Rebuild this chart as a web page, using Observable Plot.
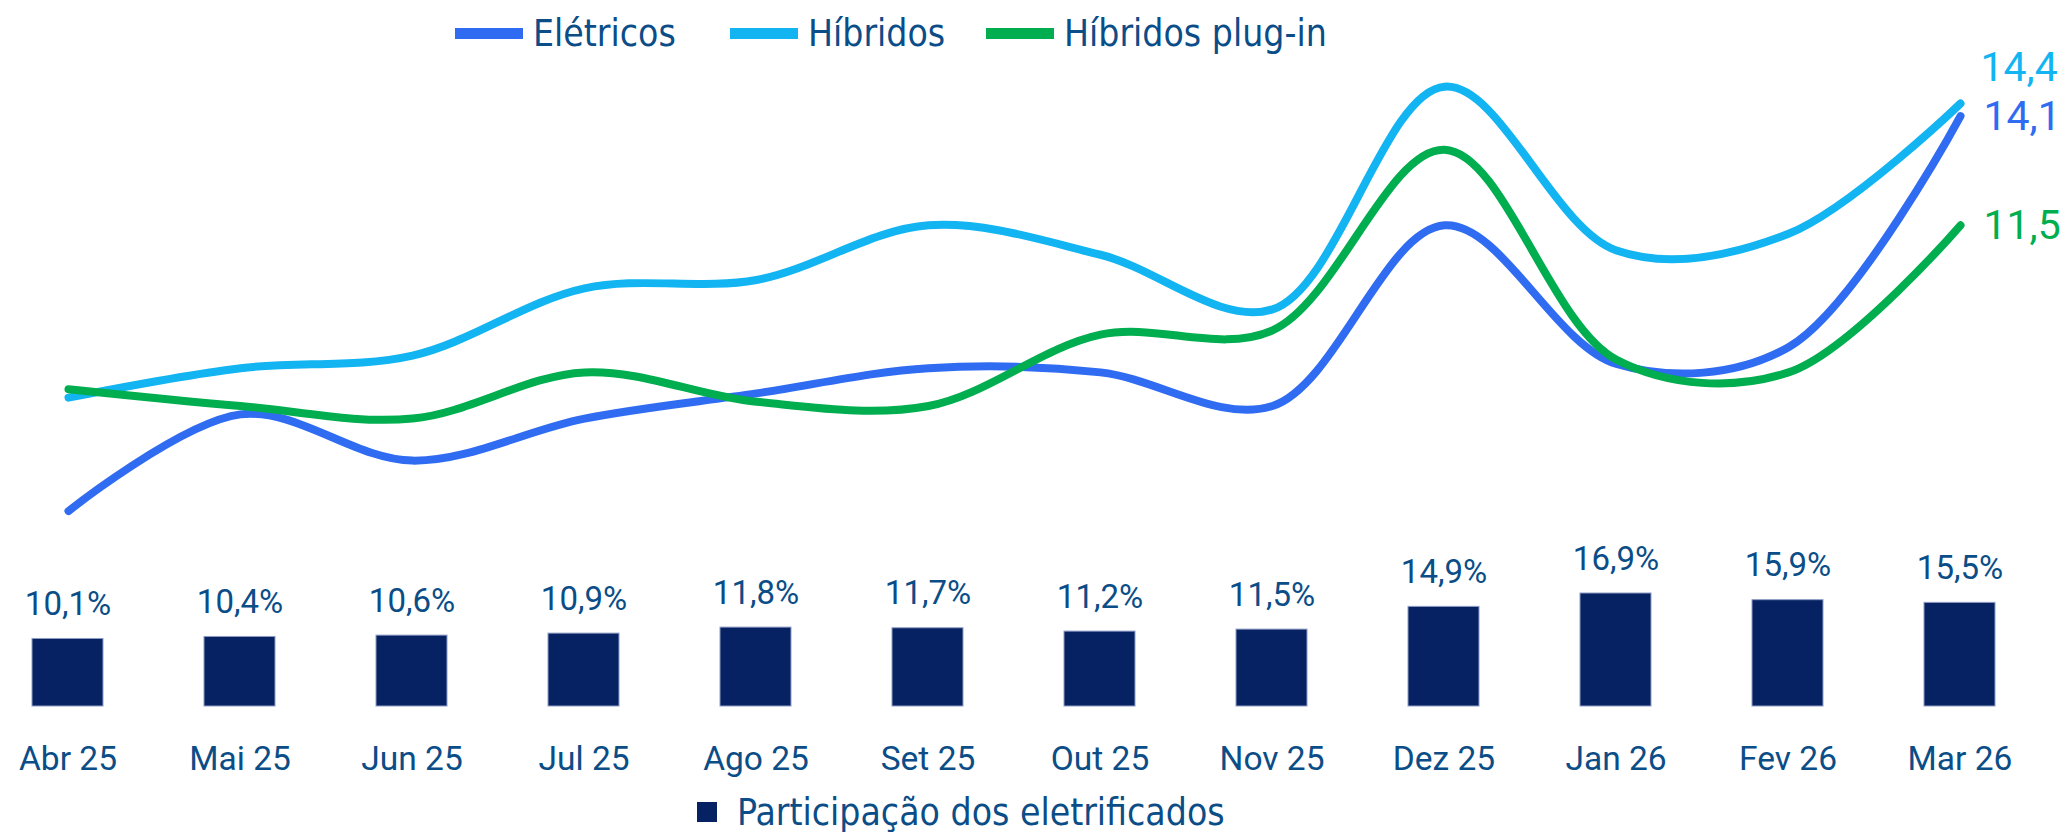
<!DOCTYPE html>
<html>
<head>
<meta charset="utf-8">
<script src="https://cdn.jsdelivr.net/npm/d3@7"></script>
<script src="https://cdn.jsdelivr.net/npm/@observablehq/plot@0.6"></script>
<style>
  html, body { margin: 0; padding: 0; background: #ffffff; }
  #wrap { position: relative; width: 2062px; height: 832px; overflow: hidden; background: #fff; }
  #wrap svg { position: absolute; left: 0; top: 0; }
  .leg { position: absolute; display: flex; align-items: center; font-family: "DejaVu Sans Condensed", "DejaVu Sans", sans-serif; font-stretch: condensed; font-size: 37px; line-height: 1; color: #0b4d87; white-space: nowrap; }
  .sw { display: inline-block; width: 68px; height: 11px; margin-right: 10px; }
  .sq { display: inline-block; width: 20px; height: 20px; margin-right: 20px; background: #062262; }
</style>
</head>
<body>
<div id="wrap"></div>
<script>
// ---- data ----
const months = ["Abr 25","Mai 25","Jun 25","Jul 25","Ago 25","Set 25","Out 25","Nov 25","Dez 25","Jan 26","Fev 26","Mar 26"];
const seriesNames = ["Elétricos", "Híbridos", "Híbridos plug-in"];
const seriesColors = ["#306cf2", "#12b4f1", "#00ae4f"];
const eletricos = [4.7, 7.0, 5.9, 6.9, 7.5, 8.1, 8.0, 7.2, 11.5, 8.2, 8.6, 14.1];
const hibridos  = [7.4, 8.1, 8.4, 10.0, 10.2, 11.5, 10.8, 9.5, 14.8, 10.9, 11.3, 14.4];
const plugin    = [7.6, 7.2, 6.9, 8.0, 7.3, 7.2, 8.9, 9.0, 13.3, 8.3, 8.0, 11.5];
const participacao = [10.1, 10.4, 10.6, 10.9, 11.8, 11.7, 11.2, 11.5, 14.9, 16.9, 15.9, 15.5];
const barLegend = "Participação dos eletrificados";

const fmt = v => v.toFixed(1).replace(".", ",");

const seriesValues = [eletricos, hibridos, plugin];
const lineData = seriesNames.flatMap((s, i) => months.map((m, j) => ({series: s, month: m, value: seriesValues[i][j]})));
const lastPoints = seriesNames.map((s, i) => ({series: s, month: months[months.length - 1], value: seriesValues[i][months.length - 1]}));
const barData = months.map((m, i) => ({month: m, value: participacao[i]}));

const W = 2062, H = 832;
const left = 64, right = 1963;
const step = (right - left) / (months.length - 1);
const textColor = "#0b4d87";

const colorScale = {domain: seriesNames, range: seriesColors};

// ---- bar plot ----
const bars = Plot.plot({
  width: W, height: H,
  marginTop: 0, marginBottom: H - 706, marginLeft: 0, marginRight: 0,
  style: {fontFamily: "Roboto, sans-serif", color: textColor, background: "transparent", overflow: "visible"},
  x: {type: "band", domain: months, range: [left - step / 2, right + step / 2], paddingInner: 0.59, paddingOuter: 0.295, axis: null},
  y: {domain: [0, 16.9], range: [706, 593], axis: null},
  marks: [
    Plot.barY(barData, {x: "month", y: "value", fill: "#062262", stroke: "#8f9cc4", strokeWidth: 1}),
    Plot.text(barData, {x: "month", y: "value", text: d => fmt(d.value) + "%", dy: -24, lineAnchor: "bottom", fontSize: 33, fill: textColor}),
    Plot.axisX({tickSize: 0, tickPadding: 40, fontSize: 33.5, label: null, fill: textColor})
  ]
});

// ---- line plot ----
const lines = Plot.plot({
  width: W, height: H,
  marginTop: 0, marginBottom: 0, marginLeft: left, marginRight: W - right,
  style: {fontFamily: "Roboto, sans-serif", background: "transparent", overflow: "visible"},
  x: {type: "point", domain: months, padding: 0, axis: null},
  y: {domain: [0, 14.4], range: [708, 103], axis: null},
  color: colorScale,
  marks: [
    Plot.line(lineData, {x: "month", y: "value", z: "series", stroke: "series", strokeWidth: 8, curve: "catmull-rom", strokeLinecap: "round", strokeLinejoin: "round"}),
    Plot.text(lastPoints.filter(d => d.series === "Híbridos"), {x: "month", y: "value", text: d => fmt(d.value), fill: "series", dx: 20, dy: -36, textAnchor: "start", lineAnchor: "middle", fontSize: 41}),
    Plot.text(lastPoints.filter(d => d.series !== "Híbridos"), {x: "month", y: "value", text: d => fmt(d.value), fill: "series", dx: 23, dy: 1, textAnchor: "start", lineAnchor: "middle", fontSize: 41})
  ]
});

const wrap = document.getElementById("wrap");
wrap.appendChild(bars);
wrap.appendChild(lines);

// ---- legends ----
const legLefts = [455, 730, 986];
seriesNames.forEach((s, i) => {
  const d = document.createElement("div");
  d.className = "leg";
  d.style.left = legLefts[i] + "px";
  d.style.top = "10px";
  d.style.height = "46px";
  d.innerHTML = `<span class="sw" style="background:${seriesColors[i]}"></span><span>${s}</span>`;
  wrap.appendChild(d);
});
const bl = document.createElement("div");
bl.className = "leg";
bl.style.left = "697px";
bl.style.top = "793px";
bl.style.height = "38px";
bl.innerHTML = `<span class="sq"></span><span>${barLegend}</span>`;
wrap.appendChild(bl);
</script>
</body>
</html>
